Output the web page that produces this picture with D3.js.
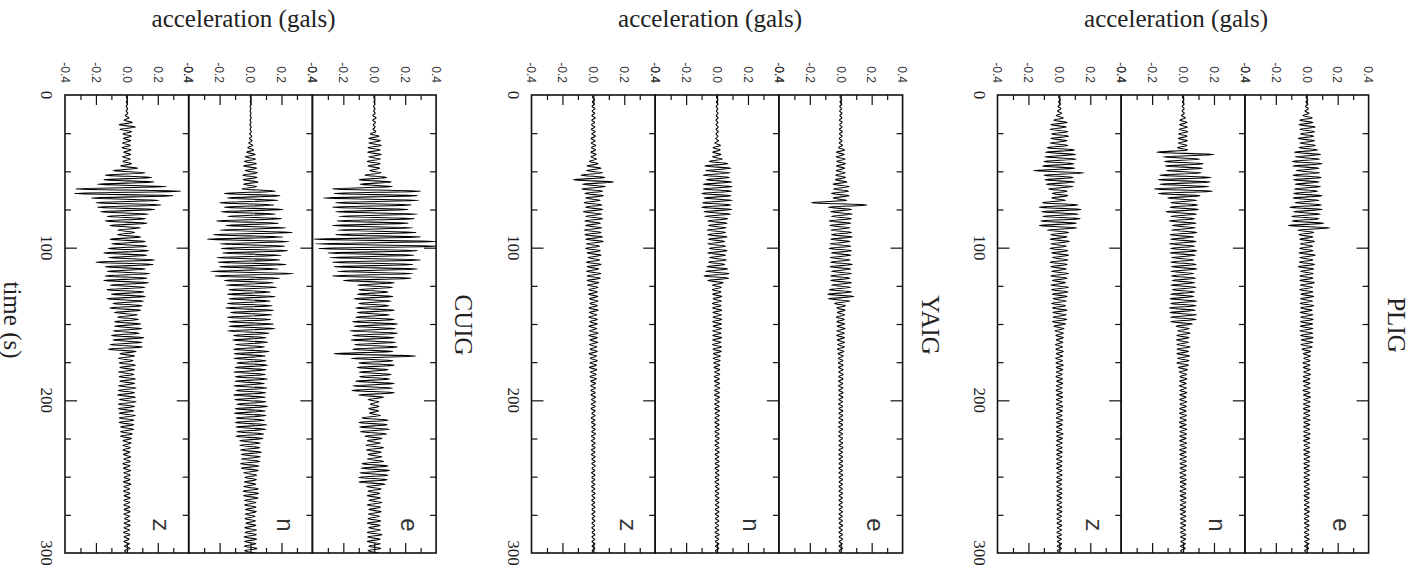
<!DOCTYPE html>
<html>
<head>
<meta charset="utf-8">
<script src="https://cdn.jsdelivr.net/npm/d3@7"></script>
<style>
  html, body { margin: 0; padding: 0; background: #fff; }
  svg { display: block; }
  .title { font-family: "Liberation Serif", "Times New Roman", serif; font-size: 25px; fill: #222; }
  .station { font-family: "Liberation Serif", "Times New Roman", serif; font-size: 25px; fill: #222; }
  .tlabel { font-family: "Liberation Serif", "Times New Roman", serif; font-size: 17px; fill: #222; }
  .alabel { font-family: "Liberation Sans", Arial, sans-serif; font-size: 12px; fill: #333; }
  .comp { font-family: "Liberation Mono", "Courier New", monospace; font-size: 24px; fill: #333; }
  .tick line { stroke: #111; stroke-width: 1.2; }
</style>
</head>
<body>
<svg id="chart" width="1412" height="576"></svg>
<script>
// Stations (left to right) and components within each station (left to right)
const stations = ["CUIG", "YAIG", "PLIG"];
const components = ["z", "n", "e"];

// Axis ticks
const accelTicks = [-0.4, -0.2, 0, 0.2, 0.4];
const accelTickLabels = ["-0.4", "-0.2", "0.0", "0.2", "0.4"];
const accelMajor = [-0.2, 0, 0.2];
const accelMinor = [-0.3, -0.1, 0.1, 0.3];
const timeTicks = [0, 100, 200, 300];
const timeTickLabels = ["0", "100", "200", "300"];
const timeMajor = [100, 200];
const timeMinor = [25, 50, 75, 125, 150, 175, 225, 250, 275];

// Ground acceleration in milligals, one sample every 1.5 s from 0 s to 300 s
const sampleInterval = 1.5;

const CUIG_z = [
  2,-3,4,-3,4,-4,5,-4,6,-10,14,-18,35,-50,55,-45,30,-25,28,-22,
  25,-28,22,-30,26,-20,24,-28,22,-25,30,-40,70,-90,120,-140,160,-150,175,-190,
  260,-330,350,-340,300,-230,210,-200,220,-190,180,-170,140,-130,120,-140,130,-110,90,-60,
  50,-60,90,-110,120,-100,130,-120,140,-150,130,-120,180,-200,170,-140,120,-130,150,-140,
  130,-150,140,-110,120,-130,110,-100,120,-130,110,-90,100,-110,90,-80,70,-60,75,-80,
  90,-80,100,-90,80,-100,110,-90,100,-110,100,-120,60,-45,50,-55,40,-50,55,-45,
  50,-55,45,-50,55,-45,50,-55,60,-55,50,-60,55,-50,60,-55,50,-55,45,-50,
  55,-50,45,-50,45,-40,45,-40,35,-40,30,-25,28,-25,22,-25,20,-22,25,-20,
  22,-25,20,-22,25,-20,22,-18,20,-22,25,-20,18,-22,20,-18,22,-20,18,-20,
  20,-18,22,-20,18,-15,20,-18,22,-20,18,-22,20,-18,15,-20,18,-16,20,-15,
  10
];
const CUIG_n = [
  2,-2,3,-2,3,-3,2,-3,3,-2,4,-3,3,-4,4,-3,5,-6,8,-7,
  10,-12,14,-18,20,-25,30,-35,32,-40,38,-45,40,-35,45,-50,42,-48,50,-45,
  40,-55,160,-170,190,-150,180,-200,150,-170,210,-190,160,-150,200,-220,180,-160,230,-200,
  270,-240,210,-280,250,-200,220,-190,240,-180,200,-220,190,-210,230,-200,180,-260,280,-230,
  190,-170,150,-160,170,-140,130,-150,160,-140,130,-150,140,-160,150,-130,140,-150,130,-140,
  150,-140,160,-150,120,-110,100,-115,110,-100,90,-110,120,-105,95,-110,100,-90,110,-100,
  100,-110,95,-100,110,-100,90,-110,105,-95,100,-110,95,-105,100,-90,110,-100,95,-105,
  100,-95,90,-100,105,-95,100,-90,85,-95,80,-70,65,-70,60,-65,70,-60,65,-60,
  60,-65,55,-60,50,-45,40,-35,38,-40,35,-45,50,-48,52,-45,50,-40,35,-38,
  35,-32,38,-35,30,-35,32,-30,35,-38,40,-35,38,-42,40,-38,35,-40,42,-38,
  30
];
const CUIG_e = [
  2,-3,3,-2,3,-4,5,-4,6,-10,12,-10,8,-6,5,-8,10,-25,30,-35,
  40,-35,45,-40,38,-42,45,-35,40,-45,38,-40,35,-30,45,-60,80,-100,110,-90,
  120,-270,300,-260,280,-330,290,-250,240,-270,220,-250,280,-230,260,-240,220,-270,250,-240,
  270,-250,300,-390,400,-380,400,-360,280,-300,260,-290,300,-270,250,-260,280,-240,250,-270,
  240,-200,130,-110,120,-100,90,-110,120,-130,110,-100,95,-120,130,-110,100,-120,130,-140,
  150,-130,140,-160,150,-140,130,-150,140,-130,150,-140,120,-260,270,-150,120,-100,130,-110,
  90,-100,110,-95,100,-120,130,-140,120,-145,130,-100,60,-40,30,-25,30,-35,28,-30,
  40,-80,90,-100,85,-95,100,-90,80,-60,50,-45,40,-55,60,-50,45,-40,50,-45,
  60,-80,90,-85,100,-95,90,-100,85,-100,70,-50,45,-40,35,-45,40,-35,50,-45,
  40,-35,45,-38,35,-40,42,-45,38,-35,40,-45,50,-42,38,-45,40,-35,42,-40,
  30
];
const YAIG_z = [
  5,-6,8,-7,6,-8,10,-8,9,-10,12,-10,8,-12,10,-14,12,-10,13,-15,
  12,-14,15,-12,14,-16,18,-15,20,-25,30,-40,50,-45,60,-80,75,-130,130,-70,
  80,-75,60,-55,65,-50,45,-60,55,-50,60,-65,55,-50,60,-55,45,-50,55,-60,
  50,-55,60,-50,65,-45,40,-50,45,-40,50,-35,40,-45,50,-40,35,-45,50,-40,
  45,-40,35,-38,30,-28,25,-30,28,-25,30,-22,25,-28,30,-25,22,-28,25,-22,
  25,-28,22,-25,30,-28,25,-22,28,-25,22,-20,25,-28,22,-20,25,-22,20,-25,
  22,-20,18,-22,20,-18,15,-18,14,-16,12,-15,14,-12,15,-13,12,-14,12,-10,
  12,-14,10,-12,13,-11,12,-10,14,-12,10,-13,12,-10,11,-12,10,-13,12,-10,
  11,-10,12,-9,10,-12,11,-10,9,-11,10,-12,9,-10,11,-9,10,-11,9,-10,
  10,-9,11,-10,9,-8,10,-9,8,-10,9,-8,10,-9,8,-9,10,-8,9,-8,
  6
];
const YAIG_n = [
  3,-4,5,-4,5,-6,5,-4,6,-5,6,-7,5,-6,7,-6,8,-7,6,-8,
  10,-15,22,-25,20,-28,25,-30,35,-50,70,-80,90,-75,85,-90,80,-70,95,-90,
  100,-90,95,-100,90,-85,100,-95,90,-100,95,-85,90,-80,70,-60,65,-55,60,-65,
  55,-60,65,-55,50,-60,55,-50,65,-60,55,-50,60,-55,50,-65,70,-75,80,-85,
  75,-60,40,-30,28,-30,25,-28,30,-25,28,-30,25,-28,30,-26,28,-25,30,-28,
  28,-25,30,-28,25,-27,30,-28,25,-30,28,-25,27,-24,22,-25,20,-22,18,-20,
  18,-16,17,-18,15,-17,16,-15,18,-16,15,-17,16,-14,15,-16,14,-15,16,-14,
  15,-14,13,-15,14,-13,15,-14,13,-12,14,-13,12,-14,13,-12,14,-13,12,-13,
  13,-12,14,-13,12,-11,13,-12,11,-13,12,-11,13,-12,11,-12,13,-11,12,-11,
  12,-11,13,-12,11,-10,12,-11,10,-12,11,-13,14,-12,10,-11,12,-10,11,-10,
  8
];
const YAIG_e = [
  4,-5,6,-5,7,-6,5,-7,8,-6,7,-8,9,-7,8,-9,10,-8,9,-10,
  8,-10,12,-15,25,-28,22,-30,28,-25,30,-28,25,-30,28,-32,30,-35,40,-50,
  55,-45,50,-60,55,-50,40,-190,170,-80,70,-65,75,-60,70,-75,65,-70,60,-65,
  70,-60,75,-65,60,-70,65,-75,70,-60,65,-70,60,-65,75,-70,65,-60,70,-65,
  60,-65,70,-60,65,-75,70,-85,85,-80,60,-40,30,-25,28,-22,25,-28,22,-25,
  25,-22,28,-25,22,-26,24,-22,25,-20,23,-22,20,-18,16,-15,14,-16,15,-14,
  15,-14,16,-13,15,-14,13,-15,14,-13,15,-12,14,-13,12,-14,13,-12,14,-13,
  13,-12,14,-13,12,-14,13,-12,11,-13,12,-11,13,-12,14,-12,11,-13,12,-11,
  12,-11,13,-12,11,-12,13,-11,12,-10,11,-12,10,-11,12,-10,11,-12,10,-11,
  11,-10,12,-11,10,-12,11,-10,12,-11,10,-12,11,-10,12,-11,10,-12,11,-10,
  8
];
const PLIG_z = [
  4,-5,6,-5,7,-8,10,-12,15,-20,25,-35,50,-55,45,-60,55,-50,60,-55,
  50,-60,55,-80,100,-90,105,-95,110,-100,95,-110,100,-170,160,-100,90,-95,100,-85,
  90,-70,50,-45,55,-50,40,-110,120,-130,140,-115,125,-110,135,-120,110,-130,115,-80,
  60,-55,50,-60,65,-55,45,-60,55,-50,60,-45,55,-60,50,-55,45,-50,60,-55,
  50,-45,40,-55,60,-50,55,-45,50,-40,45,-50,40,-45,50,-42,45,-40,48,-45,
  40,-35,30,-28,25,-22,25,-20,22,-25,20,-22,25,-20,22,-24,20,-22,25,-20,
  22,-20,18,-22,20,-18,22,-20,18,-22,20,-19,22,-20,18,-20,22,-18,20,-19,
  18,-20,22,-18,20,-19,18,-20,24,-18,20,-18,19,-20,18,-17,19,-18,17,-19,
  18,-17,16,-18,17,-16,18,-17,16,-18,15,-17,16,-15,17,-16,15,-17,16,-15,
  16,-15,17,-16,15,-16,14,-15,16,-14,15,-16,14,-15,13,-14,15,-13,14,-13,
  10
];
const PLIG_n = [
  3,-4,5,-4,6,-5,7,-6,8,-10,15,-20,25,-22,28,-25,30,-28,25,-30,
  28,-30,25,-35,30,-170,200,-130,110,-120,130,-115,125,-110,120,-150,180,-160,175,-150,
  170,-185,190,-160,110,-100,90,-80,95,-85,100,-110,90,-80,75,-90,85,-70,80,-75,
  90,-85,70,-80,85,-90,75,-80,90,-85,80,-75,70,-80,85,-75,90,-80,70,-75,
  80,-70,75,-80,85,-70,75,-80,70,-85,90,-80,85,-90,80,-85,90,-80,85,-80,
  60,-45,40,-35,45,-40,38,-42,35,-40,45,-38,35,-40,42,-35,38,-40,35,-30,
  28,-25,22,-20,24,-22,20,-24,22,-20,23,-21,20,-22,24,-20,21,-22,20,-23,
  22,-20,21,-23,20,-22,24,-20,22,-21,20,-22,23,-20,21,-22,20,-21,22,-20,
  21,-20,22,-19,20,-21,19,-20,21,-19,20,-18,19,-20,18,-19,20,-18,19,-18,
  18,-19,17,-18,19,-17,18,-16,17,-18,16,-17,18,-16,17,-15,16,-17,15,-16,
  10
];
const PLIG_e = [
  4,-5,6,-5,7,-8,10,-12,15,-25,35,-45,40,-50,55,-45,50,-40,45,-55,
  50,-45,55,-50,70,-80,90,-75,85,-95,100,-90,80,-70,85,-90,95,-85,80,-75,
  90,-80,70,-85,100,-90,80,-75,95,-110,100,-85,90,-100,80,-95,110,-120,150,-60,
  45,-50,40,-45,50,-42,38,-45,40,-50,55,-45,40,-48,50,-55,45,-40,42,-45,
  40,-45,50,-42,38,-45,40,-38,45,-40,38,-42,45,-40,35,-42,40,-38,42,-40,
  38,-42,40,-45,38,-40,42,-36,40,-38,35,-30,25,-22,24,-20,22,-24,20,-22,
  22,-20,24,-22,20,-23,21,-20,22,-24,20,-21,23,-20,22,-21,20,-22,21,-20,
  20,-22,21,-19,20,-21,19,-20,22,-20,19,-21,20,-18,19,-20,18,-19,20,-18,
  18,-19,17,-18,19,-17,18,-19,17,-18,16,-17,18,-16,17,-18,16,-17,15,-16,
  16,-15,17,-16,15,-16,14,-15,16,-14,15,-16,14,-15,16,-14,15,-14,13,-14,
  10
];

const records = {
  CUIG: { z: CUIG_z, n: CUIG_n, e: CUIG_e },
  YAIG: { z: YAIG_z, n: YAIG_n, e: YAIG_e },
  PLIG: { z: PLIG_z, n: PLIG_n, e: PLIG_e }
};

// ---- layout ----
const svg = d3.select("#chart");
const plotTop = 95, plotBottom = 553;
const groupLeft = [65, 531.5, 997.5];
const panelW = 123.7;
const frameColor = "#111";

const y = d3.scaleLinear().domain([0, 300]).range([plotTop, plotBottom]);

function rotatedText(x, yPos, cls, anchor, str) {
  return svg.append("text")
    .attr("class", cls)
    .attr("transform", `translate(${x},${yPos}) rotate(90)`)
    .attr("text-anchor", anchor)
    .attr("dy", "0.35em")
    .text(str);
}

function tickAxis(g, axis, values, size) {
  g.call(axis.tickValues(values).tickSize(size).tickFormat(""))
   .call(s => s.select(".domain").remove());
}

// y-axis label on the left-most station only
rotatedText(13, y(150) - 4, "title", "middle", "time (s)");

stations.forEach((st, gi) => {
  const g0 = groupLeft[gi];
  const gW = panelW * components.length;

  svg.append("text")
    .attr("class", "title")
    .attr("x", g0 + gW / 2 - 7)
    .attr("y", 27)
    .attr("text-anchor", "middle")
    .text("acceleration (gals)");

  rotatedText(g0 + gW + 28, y(150) + 1, "station", "middle", st);

  timeTicks.forEach((t, i) => rotatedText(g0 - 18, y(t), "tlabel", "middle", timeTickLabels[i]));

  components.forEach((c, pi) => {
    const x0 = g0 + pi * panelW;
    const x1 = x0 + panelW;
    const x = d3.scaleLinear().domain([-0.4, 0.4]).range([x0, x1]);
    const panel = svg.append("g");

    const clipId = `clip-${st}-${c}`;
    svg.append("clipPath").attr("id", clipId)
      .append("rect").attr("x", x0).attr("y", plotTop).attr("width", panelW).attr("height", plotBottom - plotTop);

    // waveform
    const series = records[st][c].map((a, i) => ({ t: i * sampleInterval, a: a / 1000 }));
    const line = d3.line()
      .x(d => x(d.a))
      .y(d => y(d.t))
      .curve(d3.curveMonotoneY);
    panel.append("path")
      .datum(series)
      .attr("clip-path", `url(#${clipId})`)
      .attr("d", line)
      .attr("fill", "none")
      .attr("stroke", "#000")
      .attr("stroke-width", 1.1)
      .attr("stroke-linejoin", "round");

    // acceleration ticks, top and bottom, pointing inward
    const top = panel.append("g").attr("transform", `translate(0,${plotTop})`);
    tickAxis(top.append("g"), d3.axisBottom(x), accelMajor, 10);
    tickAxis(top.append("g"), d3.axisBottom(x), accelMinor, 5);
    const bottom = panel.append("g").attr("transform", `translate(0,${plotBottom})`);
    tickAxis(bottom.append("g"), d3.axisTop(x), accelMajor, 10);
    tickAxis(bottom.append("g"), d3.axisTop(x), accelMinor, 5);

    // time ticks on the right edge of each panel, and the left edge of the first
    const right = panel.append("g").attr("transform", `translate(${x1},0)`);
    tickAxis(right.append("g"), d3.axisLeft(y), timeMajor, 12);
    tickAxis(right.append("g"), d3.axisLeft(y), timeMinor, 6);
    if (pi === 0) {
      const left = panel.append("g").attr("transform", `translate(${x0},0)`);
      tickAxis(left.append("g"), d3.axisRight(y), timeMajor, 12);
      tickAxis(left.append("g"), d3.axisRight(y), timeMinor, 6);
    }

    // frame
    panel.append("rect")
      .attr("x", x0).attr("y", plotTop)
      .attr("width", panelW).attr("height", plotBottom - plotTop)
      .attr("fill", "none").attr("stroke", frameColor).attr("stroke-width", 1.6);

    // acceleration tick labels
    accelTicks.forEach((v, i) => rotatedText(x(v), plotTop - 12, "alabel", "end", accelTickLabels[i]));

    // component letter
    rotatedText(x1 - 27, 525, "comp", "middle", c);
  });
});

svg.selectAll(".tick line").attr("stroke", frameColor);
</script>
</body>
</html>
